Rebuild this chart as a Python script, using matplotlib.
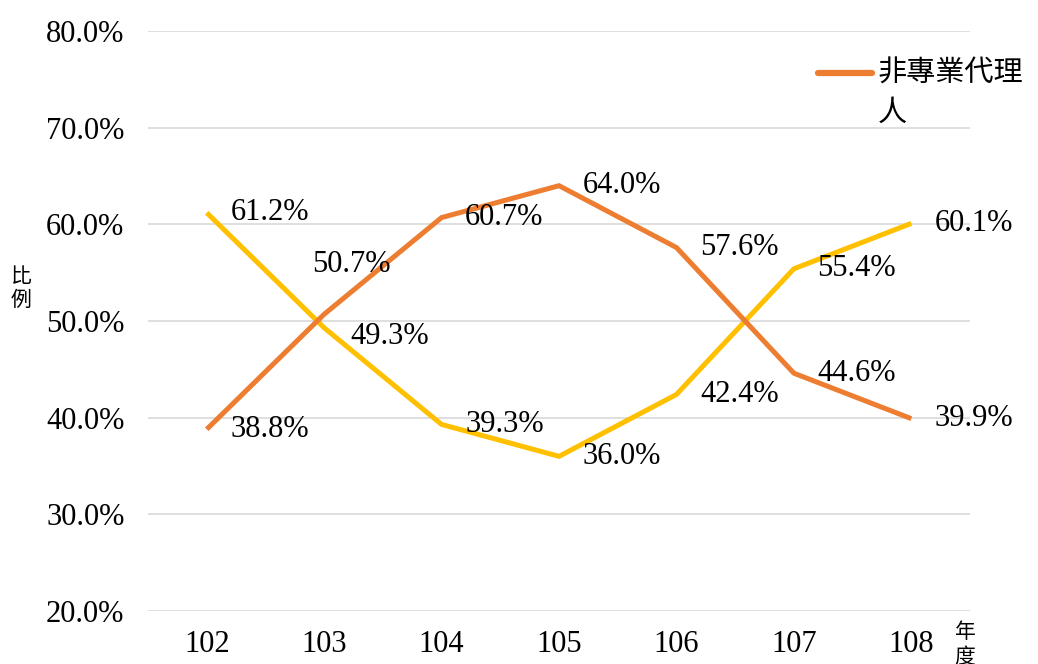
import matplotlib
matplotlib.use("Agg")
import matplotlib.pyplot as plt
from matplotlib.lines import Line2D
from matplotlib.ticker import FuncFormatter

years = ["102", "103", "104", "105", "106", "107", "108"]
non_pro = [38.8, 50.7, 60.7, 64.0, 57.6, 44.6, 39.9]
pro = [61.2, 49.3, 39.3, 36.0, 42.4, 55.4, 60.1]
legend_label = "非專業代理\n人"
ylabel = "比例"
xlabel = "年度"

ORANGE = "#ED7D31"
YELLOW = "#FFC000"
NUMFONT = ["Liberation Serif", "DejaVu Serif"]
CJK = ["Noto Sans CJK TC", "DejaVu Sans"]

fig = plt.figure(figsize=(10.38, 6.64), dpi=100)
ax = fig.add_axes([0.1426, 0.0798, 0.9345 - 0.1426, 0.9533 - 0.0798])

x = list(range(len(years)))
ax.plot(x, pro, color=YELLOW, lw=3.6, solid_capstyle="butt", zorder=3)
ax.plot(x, non_pro, color=ORANGE, lw=3.6, solid_capstyle="butt", zorder=4)

ax.set_xlim(-0.5, len(years) - 0.5)
ax.set_ylim(20, 80)
ax.set_yticks([20, 30, 40, 50, 60, 70, 80])
ax.yaxis.set_major_formatter(FuncFormatter(lambda v, p: f"{v:.1f}%"))
ax.set_xticks(x)
ax.set_xticklabels(years)
ax.grid(axis="y", color="#D9D9D9", lw=1.2)
ax.set_axisbelow(True)
for s in ax.spines.values():
    s.set_visible(False)
ax.tick_params(length=0)
ax.tick_params(axis="y", pad=17)
ax.tick_params(axis="x", pad=14)
for lab in ax.get_yticklabels() + ax.get_xticklabels():
    lab.set_fontfamily(NUMFONT)
    lab.set_fontsize(22)

# data labels (offsets in points)
off_np = [(17, 0), (-9, 36), (17, 0), (17, 0), (17, 0), (17, 0), (17, 0)]
off_p = [(17, 0), (19, -6), (17, 0), (17, 0), (17, 0), (17, 0), (17, 0)]
for xi, v, o in zip(x, non_pro, off_np):
    ax.annotate(f"{v:.1f}%", (xi, v), xytext=o, textcoords="offset points",
                ha="left", va="center", fontsize=22, family=NUMFONT, zorder=6)
for xi, v, o in zip(x, pro, off_p):
    ax.annotate(f"{v:.1f}%", (xi, v), xytext=o, textcoords="offset points",
                ha="left", va="center", fontsize=22, family=NUMFONT, zorder=6)

# axis titles (stacked characters)
fig.text(21 / 1038, 1 - 288 / 664, "\n".join(ylabel), ha="center", va="center",
         fontsize=15, family=CJK, linespacing=1.15)
fig.text(965 / 1038, 1 - 668 / 664, "\n".join(xlabel), ha="center", va="bottom",
         fontsize=15, family=CJK, linespacing=1.2)

handle = Line2D([], [], color=ORANGE, lw=4.5, solid_capstyle="round")
leg = ax.legend([handle], [legend_label], loc="upper left",
                bbox_to_anchor=(818 / 1038, 1 - 59 / 664), bbox_transform=fig.transFigure,
                frameon=False, handlelength=1.85, handletextpad=0.2,
                borderpad=0, borderaxespad=0,
                prop={"family": CJK, "size": 21})
for t in leg.get_texts():
    t.set_linespacing(1.4)
for ln in leg.get_lines():
    ln.set_ydata([yy + 16 for yy in ln.get_ydata()])

fig.savefig("out.png", dpi=100)
